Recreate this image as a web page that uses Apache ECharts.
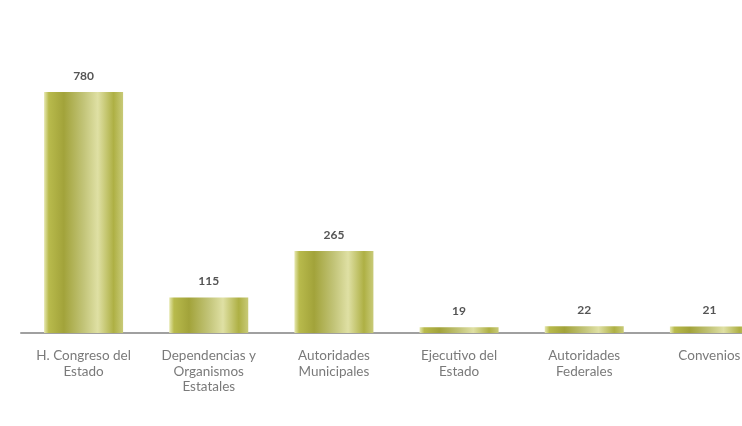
<!DOCTYPE html>
<html>
<head>
<meta charset="utf-8">
<script src="https://cdn.jsdelivr.net/npm/echarts@6/dist/echarts.min.js"></script>
<style>
html,body{margin:0;padding:0;background:#fff;overflow:hidden;}
#c{width:742px;height:426px;}
</style>
</head>
<body>
<div id="c"></div>
<script>
const categories = ['H. Congreso del\nEstado', 'Dependencias y\nOrganismos\nEstatales', 'Autoridades\nMunicipales', 'Ejecutivo del\nEstado', 'Autoridades\nFederales', 'Convenios'];
const values = [780, 115, 265, 19, 22, 21];

const barGradient = new echarts.graphic.LinearGradient(0, 0, 1, 0, [
  {offset: 0, color: '#e6e8b0'},
  {offset: 0.06, color: '#b8ba4c'},
  {offset: 0.25, color: '#a2a33a'},
  {offset: 0.5, color: '#c2c478'},
  {offset: 0.68, color: '#dfe0a4'},
  {offset: 0.88, color: '#aeb044'},
  {offset: 1, color: '#c8ca78'}
]);

const chart = echarts.init(document.getElementById('c'));
chart.setOption({
  animation: false,
  backgroundColor: '#ffffff',
  grid: {left: 21, top: 92, width: 751, height: 241, containLabel: false, outerBoundsMode: 'none'},
  xAxis: {
    type: 'category',
    data: categories,
    axisLine: {show: true, lineStyle: {color: '#a0a0a0', width: 2}},
    axisTick: {show: false},
    axisLabel: {
      interval: 0,
      margin: 15,
      color: '#7a7a7a',
      fontFamily: 'Lato',
      fontSize: 13.5,
      lineHeight: 15.5
    }
  },
  yAxis: {
    type: 'value',
    min: 0,
    max: 780,
    show: false,
    splitLine: {show: false}
  },
  series: [{
    type: 'bar',
    data: values,
    barWidth: 79,
    itemStyle: {color: barGradient},
    label: {
      show: true,
      position: 'top',
      distance: 10,
      color: '#555555',
      fontFamily: 'Lato',
      fontWeight: 'bold',
      fontSize: 12
    }
  }]
});
</script>
</body>
</html>
